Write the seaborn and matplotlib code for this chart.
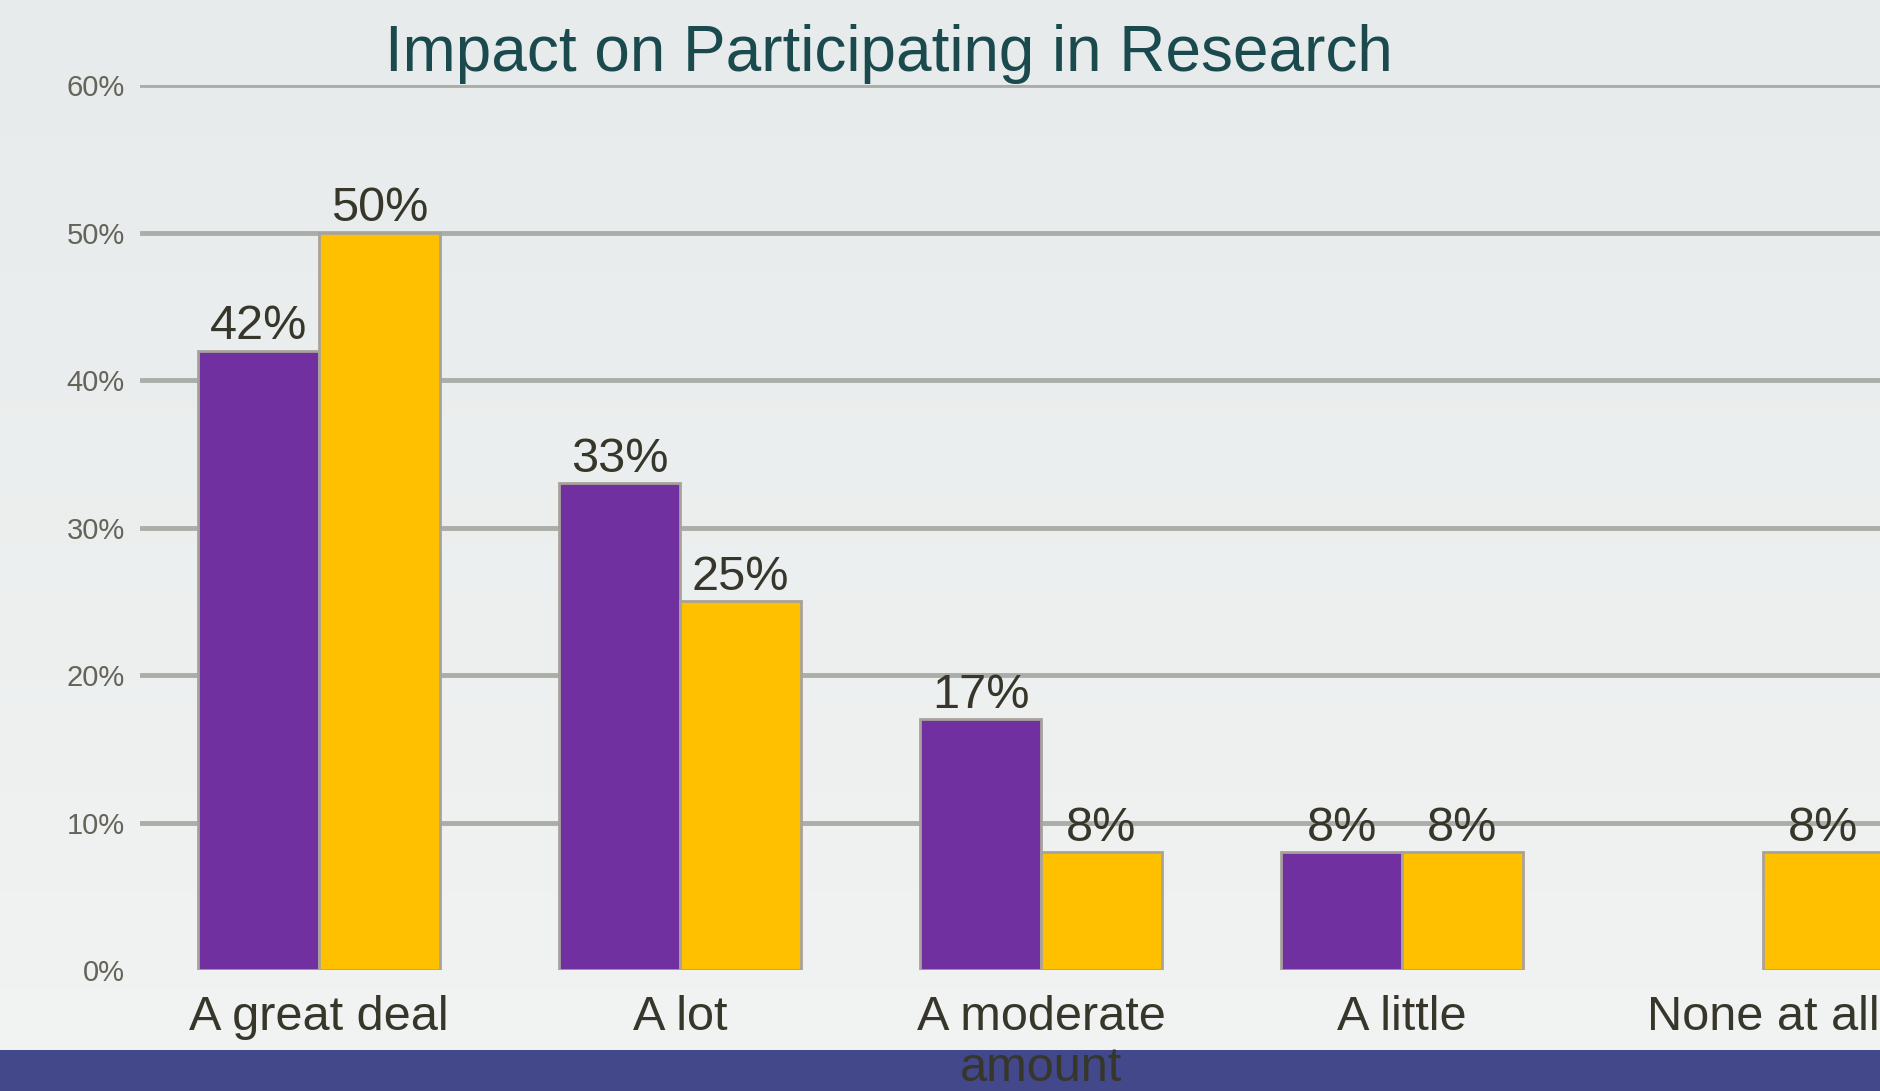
import numpy as np
import pandas as pd
import matplotlib
matplotlib.use("Agg")
import matplotlib.pyplot as plt
import seaborn as sns
from matplotlib.patches import Rectangle
from matplotlib.colors import LinearSegmentedColormap

# ---- data ----
categories = ["A great deal", "A lot", "A moderate\namount", "A little", "None at all"]
series_names = ["Series 1", "Series 2"]
purple_values = [42, 33, 17, 8, 0]
yellow_values = [50, 25, 8, 8, 8]
y_ticks = [0, 10, 20, 30, 40, 50, 60]
y_tick_labels = ["0%", "10%", "20%", "30%", "40%", "50%", "60%"]
title = "Impact on Participating in Research"

df = pd.DataFrame({
    "category": categories * 2,
    "series": [series_names[0]] * len(categories) + [series_names[1]] * len(categories),
    "value": purple_values + yellow_values,
})

sns.set_theme(style="white")
plt.rcParams['font.family'] = ['Liberation Sans', 'DejaVu Sans']

W, H = 1880, 1091
fig = plt.figure(figsize=(W / 100, H / 100), dpi=100)

# background gradient
bg = fig.add_axes([0, 0, 1, 1], zorder=-10)
grad = np.linspace(0, 1, 256).reshape(-1, 1)
cmap = LinearSegmentedColormap.from_list("bg", ["#E7EBEB", "#F2F3F3"])
bg.imshow(grad, aspect='auto', cmap=cmap, extent=[0, 1, 0, 1], origin='upper')
bg.axis('off')

# bottom band
band = Rectangle((0, 0), 1, 41 / H, transform=fig.transFigure,
                 facecolor="#424889", edgecolor="none", zorder=-5)
fig.add_artist(band)

ax = fig.add_axes([140 / W, 1 - 970 / H, 1 - 140 / W, (970 - 85) / H])
ax.patch.set_alpha(0)

sns.barplot(data=df, x="category", y="value", hue="series",
            palette=["#7030A0", "#FFC000"], width=0.67, gap=0,
            saturation=1, edgecolor="#A8A29C", linewidth=2,
            legend=False, ax=ax)

for p in ax.patches:
    if p.get_height() == 0:
        p.set_visible(False)

ax.set_xlim(-0.496, 4.324)
ax.set_ylim(0, 60)
ax.set_yticks(y_ticks, y_tick_labels)
ax.yaxis.grid(True, color="#ABADA9", linewidth=3.5)
ax.xaxis.grid(False)
ax.set_axisbelow(True)
ax.get_ygridlines()[0].set_visible(False)
for s in ax.spines.values():
    s.set_visible(False)
ax.set_xlabel("")
ax.set_ylabel("")
ax.tick_params(axis='y', length=0, pad=11, labelsize=21, labelcolor="#64645A")
ax.tick_params(axis='x', length=0, pad=18, labelsize=35, labelcolor="#36362B")
for lbl in ax.get_xticklabels():
    lbl.set_linespacing(1.17)

for container, vals in zip(ax.containers, [purple_values, yellow_values]):
    labels = [f"{v}%" if v > 0 else "" for v in vals]
    ax.bar_label(container, labels=labels, padding=1, fontsize=35, color="#36362B")

fig.text(0.473, 1 - 71 / H, title, ha='center', va='baseline',
         fontsize=46, color="#1A4A4D")

fig.savefig("out.png", dpi=100)
